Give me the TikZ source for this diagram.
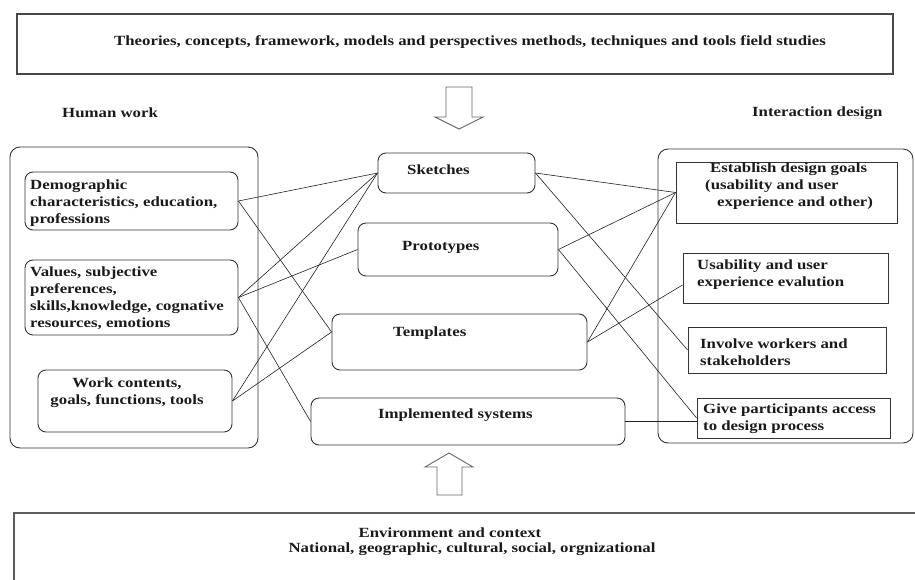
\documentclass[tikz,border=0pt]{standalone}
\usepackage{fontspec}
\newfontfamily\lbl{Liberation Serif}[FakeStretch=1.2]
\definecolor{linec}{HTML}{222222}
\definecolor{boxc}{HTML}{333333}
\definecolor{txtc}{HTML}{1A1A1A}
\definecolor{arrc}{HTML}{666666}
\tikzset{
  rbox/.style={draw=boxc, rounded corners=8pt, line width=0.9pt, inner sep=0pt},
  sbox/.style={draw=boxc, line width=0.9pt, inner sep=0pt},
  conn/.style={draw=linec, line width=0.6pt},
  txt/.style={font=\lbl\bfseries\fontsize{14}{17}\selectfont, text=txtc, inner sep=0pt, align=left},
  blockarrow/.style={draw=arrc, line width=0.9pt, fill=white},
}
\begin{document}
\begin{tikzpicture}[x=1pt,y=-1pt]
\clip (0,0) rectangle (915,579);
\fill[white] (0,0) rectangle (915,579);

% top box
\node[sbox, draw=boxc!90, line width=1.1pt, minimum width=876pt, minimum height=60pt] (top) at (455,44) {};
\node[txt, align=center] (toptxt) at (470,42) {Theories, concepts, framework, models and perspectives methods, techniques and tools field studies};

% down arrow
\draw[blockarrow] (446,87) -- (472,87) -- (472,117) -- (483,117) -- (459,129) -- (435,117) -- (446,117) -- cycle;

% labels
\node[txt, anchor=west] (hw) at (62,113) {Human work};
\node[txt, anchor=west] (idl) at (752,113) {Interaction design};

% left group
\node[rbox, rounded corners=10pt, minimum width=248pt, minimum height=301pt] (left) at (134,297.5) {};
\node[rbox, minimum width=213pt, minimum height=58pt] (demo) at (131.5,201) {};
\node[rbox, minimum width=213pt, minimum height=75pt] (val) at (131.5,297.5) {};
\node[rbox, minimum width=194pt, minimum height=62pt] (work) at (135,401) {};
\node[txt, anchor=west] (demotxt) at (30,203) {Demographic\\characteristics, education,\\professions};
\node[txt, anchor=west] (valtxt) at (30,298) {Values, subjective\\preferences,\\skills,knowledge, cognative\\resources, emotions};
\node[txt, align=center] (worktxt) at (127,393) {Work contents,\\goals, functions, tools};

% middle group
\node[rbox, minimum width=157pt, minimum height=40pt] (sk) at (456.5,173) {};
\node[rbox, minimum width=200pt, minimum height=53pt] (pr) at (458,249.5) {};
\node[rbox, minimum width=255pt, minimum height=56pt] (tp) at (459.5,342) {};
\node[rbox, minimum width=314pt, minimum height=47pt] (im) at (468,421.5) {};
\node[txt, anchor=west] (sktxt) at (407,170) {Sketches};
\node[txt, anchor=west] (prtxt) at (402,247) {Prototypes};
\node[txt, anchor=west] (tptxt) at (393,333) {Templates};
\node[txt, anchor=west] (imtxt) at (378,415) {Implemented systems};

% right group
\node[rbox, rounded corners=10pt, minimum width=255pt, minimum height=294pt] (right) at (785.5,296) {};
\node[sbox, minimum width=221pt, minimum height=61pt] (est) at (786.5,192.5) {};
\node[sbox, minimum width=205pt, minimum height=50pt] (us) at (785.5,278) {};
\node[sbox, minimum width=198pt, minimum height=46pt] (inv) at (787,350) {};
\node[sbox, minimum width=193pt, minimum height=40pt] (give) at (793.5,418) {};
\node[txt, anchor=west] (esttxt) at (705,186) {\hspace*{5pt}Establish design goals\\(usability and user\\\hspace*{12pt}experience and other)};
\node[txt, anchor=west] (ustxt) at (697,275) {Usability and user\\experience evalution};
\node[txt, anchor=west] (invtxt) at (700,352) {Involve workers and\\stakeholders};
\node[txt, anchor=west] (givetxt) at (703,419) {Give participants access\\to design process};

% connectors left
\draw[conn] (demo.east) -- (sk.west);
\draw[conn] (demo.east) -- ([yshift=10pt]tp.west);
\draw[conn] (val.east) -- (sk.west);
\draw[conn] (val.east) -- (pr.west);
\draw[conn] (val.east) -- (im.west);
\draw[conn] (work.east) -- (sk.west);
\draw[conn] (work.east) -- ([yshift=10pt]tp.west);
% connectors right
\draw[conn] (sk.east) -- (est.west);
\draw[conn] (sk.east) -- (inv.west);
\draw[conn] (pr.east) -- (est.west);
\draw[conn] (pr.east) -- (give.west);
\draw[conn] (tp.east) -- (est.west);
\draw[conn] (tp.east) -- ([yshift=-7pt]us.west);
\draw[conn] (im.east) -- (im.east -| give.west);

% up arrow
\draw[blockarrow] (437,495) -- (462,495) -- (462,467) -- (473,467) -- (449,453) -- (425,467) -- (437,467) -- cycle;

% bottom box
\node[sbox, draw=boxc!80, line width=1.4pt, minimum width=916pt, minimum height=90pt] (bot) at (472,558) {};
\node[txt, align=center] (envtxt) at (450,533) {Environment and context};
\node[txt, align=center] (nattxt) at (472,549) {National, geographic, cultural, social, orgnizational};
\end{tikzpicture}
\end{document}
